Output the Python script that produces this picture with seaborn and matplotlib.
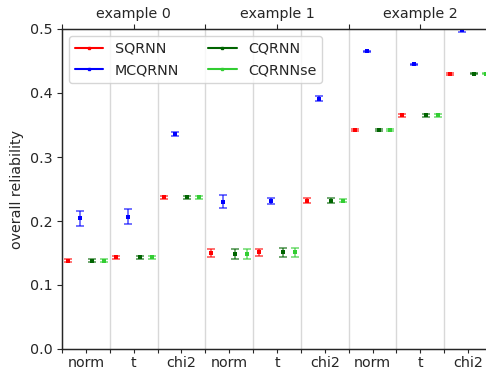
import numpy as np
import pandas as pd
import matplotlib
matplotlib.use("Agg")
import matplotlib.pyplot as plt
import seaborn as sns
from matplotlib.lines import Line2D

methods = ["SQRNN", "MCQRNN", "CQRNN", "CQRNNse"]
colors = ["#ff0000", "#0000ff", "#006400", "#32cd32"]
examples = ["example 0", "example 1", "example 2"]
dists = ["norm", "t", "chi2"]

sqrnn_mean = [0.138, 0.143, 0.237, 0.150, 0.151, 0.232, 0.342, 0.365, 0.430]
mcqrnn_mean = [0.204, 0.207, 0.336, 0.230, 0.231, 0.391, 0.465, 0.445, 0.498]
cqrnn_mean = [0.138, 0.143, 0.237, 0.149, 0.151, 0.232, 0.342, 0.365, 0.430]
cqrnnse_mean = [0.138, 0.143, 0.237, 0.149, 0.151, 0.232, 0.342, 0.365, 0.430]

sqrnn_err = [0.002, 0.002, 0.002, 0.006, 0.005, 0.004, 0.002, 0.002, 0.002]
mcqrnn_err = [0.012, 0.012, 0.003, 0.010, 0.005, 0.004, 0.001, 0.001, 0.002]
cqrnn_err = [0.002, 0.002, 0.002, 0.008, 0.007, 0.004, 0.002, 0.002, 0.001]
cqrnnse_err = [0.002, 0.002, 0.002, 0.008, 0.007, 0.003, 0.002, 0.002, 0.001]

means = [sqrnn_mean, mcqrnn_mean, cqrnn_mean, cqrnnse_mean]
errs = [sqrnn_err, mcqrnn_err, cqrnn_err, cqrnnse_err]

rows = []
for m, mv, ev in zip(methods, means, errs):
    for k, (v, e) in enumerate(zip(mv, ev)):
        rows.append(dict(method=m, example=examples[k // 3], dist=dists[k % 3],
                         cat=k, value=v, err=e))
df = pd.DataFrame(rows)

sns.set_style("ticks")
plt.rcParams["font.family"] = ["DejaVu Sans"]
plt.rcParams["font.size"] = 10.3

fig = plt.figure(figsize=(4.86, 3.72), dpi=100)
ax = fig.add_axes([62 / 486, 1 - 349 / 372, 430 / 486, 320 / 372])

offsets = [-0.375, -0.125, 0.125, 0.375]
for m, c, off in zip(methods, colors, offsets):
    d = df[df.method == m]
    x = d["cat"].to_numpy() + off
    ax.errorbar(x, d["value"], yerr=d["err"], fmt="none", ecolor=c,
                elinewidth=1.2, capsize=3, capthick=1.2, alpha=0.65, zorder=3)
    sns.scatterplot(x=x, y=d["value"].to_numpy(), color=c, marker="s", s=5,
                    linewidth=0, ax=ax, zorder=4, legend=False)

ncat = len(examples) * len(dists)
ax.set_xlim(-0.5, ncat - 0.5)
ax.set_ylim(0, 0.5)
ax.set_yticks([0.0, 0.1, 0.2, 0.3, 0.4, 0.5])
ax.set_yticklabels(["0.0", "0.1", "0.2", "0.3", "0.4", "0.5"])
ax.set_ylabel("overall reliability")

centers = np.arange(ncat)
bounds = np.arange(ncat + 1) - 0.5
ax.set_xticks(centers)
ax.set_xticklabels([dists[k % 3] for k in range(ncat)])
ax.set_xticks(bounds, minor=True)
ax.tick_params(axis="x", which="both", length=3, width=0.8, pad=2)
ax.tick_params(axis="y", which="major", length=3.5, width=0.8)
for b in bounds[1:-1]:
    ax.axvline(b, color="#d8d8d8", lw=1.0, zorder=0)

ax.spines["right"].set_visible(False)
for s in ["left", "bottom", "top"]:
    ax.spines[s].set_linewidth(1.0)

ax2 = ax.twiny()
ax2.set_xlim(ax.get_xlim())
ax2.set_xticks([1, 4, 7])
ax2.set_xticklabels(examples)
ax2.set_xticks([-0.5, 2.5, 5.5, 8.5], minor=True)
ax2.tick_params(axis="x", which="both", length=3.5, width=0.8, pad=2)
ax2.spines["right"].set_visible(False)

handles = [Line2D([0], [0], color=c, lw=1.5, marker="s", markersize=2)
           for c in colors]
ax.legend(handles, methods, loc="upper left", ncol=2, frameon=True,
          bbox_to_anchor=(0.0, 1.0), borderaxespad=0.5, columnspacing=2.0)

fig.savefig("out.png", dpi=100)
